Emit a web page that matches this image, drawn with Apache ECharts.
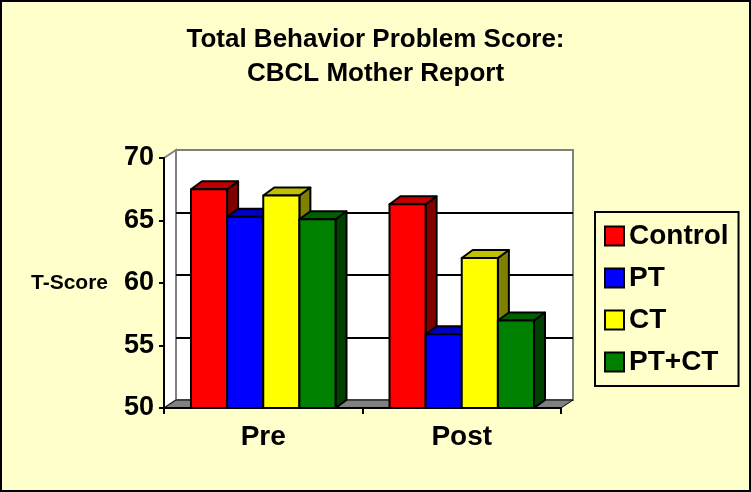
<!DOCTYPE html>
<html>
<head>
<meta charset="utf-8">
<script src="https://cdn.jsdelivr.net/npm/echarts@6/dist/echarts.min.js"></script>
<style>
  html, body { margin: 0; padding: 0; background: #ffffcc; }
  #main { width: 751px; height: 492px; }
</style>
</head>
<body>
<div id="main"></div>
<script>
var categories = ['Pre', 'Post'];
var groups = ['Control', 'PT', 'CT', 'PT+CT'];
var controlScores = [67.5, 66.3];
var ptScores = [65.3, 55.9];
var ctScores = [67.0, 62.0];
var ptctScores = [65.1, 57.0];
var yTicks = [50, 55, 60, 65, 70];

var allScores = [controlScores, ptScores, ctScores, ptctScores];
// front / top / side shades, excel style
var shades = [
  ['#ff0000', '#c00000', '#800000'],
  ['#0000ff', '#0000c0', '#000080'],
  ['#ffff00', '#c0c000', '#808000'],
  ['#008000', '#006000', '#004000']
];

var font = '"Liberation Sans", Arial, sans-serif';
var DX = 11, DY = -8;   // depth of the 3d look
var FRONT = { left: 164, top: 158, width: 397, height: 250 };
var BACK = { left: FRONT.left + 12, top: FRONT.top - 8, width: 397, height: 250 };

function barRenderer(s) {
  return function (params, api) {
    var cat = api.value(0);
    var val = api.value(1);
    var band = api.size([1, 0])[0];
    var bw = band * 0.182;
    var mid = api.coord([cat, yTicks[0]]);
    var top = api.coord([cat, val]);
    var x0 = mid[0] - bw * 2 + s * bw;
    var x1 = x0 + bw;
    var yt = top[1], yb = mid[1];
    var c = shades[s];
    var line = { stroke: '#000', lineWidth: 2, lineJoin: 'round' };
    return {
      type: 'group',
      children: [
        { type: 'polygon', shape: { points: [[x1, yt], [x1 + DX, yt + DY], [x1 + DX, yb + DY], [x1, yb]] },
          style: Object.assign({ fill: c[2] }, line) },
        { type: 'polygon', shape: { points: [[x0, yt], [x1, yt], [x1 + DX, yt + DY], [x0 + DX, yt + DY]] },
          style: Object.assign({ fill: c[1] }, line) },
        { type: 'rect', shape: { x: x0, y: yt, width: bw, height: yb - yt },
          style: Object.assign({ fill: c[0] }, line) }
      ]
    };
  };
}

var series = groups.map(function (g, s) {
  return {
    name: g,
    type: 'custom',
    xAxisIndex: 0,
    yAxisIndex: 0,
    itemStyle: { color: shades[s][0] },
    renderItem: barRenderer(s),
    data: allScores[s].map(function (v, i) { return [i, v]; }),
    z: 5
  };
});

var chart = echarts.init(document.getElementById('main'));
chart.setOption({
  backgroundColor: '#ffffcc',
  animation: false,
  title: {
    text: 'Total Behavior Problem Score:\nCBCL Mother Report',
    left: 'center',
    top: 18,
    textStyle: { fontFamily: font, fontSize: 26, fontWeight: 'bold', color: '#000', lineHeight: 34 }
  },
  graphic: [
    { type: 'rect', shape: { x: 1, y: 1, width: 749, height: 490 },
      style: { fill: 'none', stroke: '#000', lineWidth: 2 }, z: 100 },
    // side wall
    { type: 'polygon', z: 0,
      shape: { points: [[FRONT.left, FRONT.top], [BACK.left, BACK.top], [BACK.left, BACK.top + BACK.height], [FRONT.left, FRONT.top + FRONT.height]] },
      style: { fill: '#fff', stroke: '#808080', lineWidth: 2 } },
    // floor
    { type: 'polygon', z: 1,
      shape: { points: [[FRONT.left, FRONT.top + FRONT.height], [BACK.left, BACK.top + BACK.height],
        [BACK.left + BACK.width, BACK.top + BACK.height], [FRONT.left + FRONT.width, FRONT.top + FRONT.height]] },
      style: { fill: '#808080', stroke: '#000', lineWidth: 1 } }
  ],
  legend: {
    orient: 'vertical',
    left: 595,
    top: 212,
    padding: [10, 10, 10, 9],
    itemGap: 14,
    itemWidth: 19,
    itemHeight: 19,
    borderColor: '#000',
    borderWidth: 2,
    icon: 'rect',
    textStyle: { fontFamily: font, fontSize: 28, fontWeight: 'bold', color: '#000' },
    data: groups.map(function (g, s) {
      return { name: g, itemStyle: { color: shades[s][0], borderColor: '#000', borderWidth: 2 } };
    })
  },
  grid: [
    Object.assign({ containLabel: false }, FRONT),
    Object.assign({ show: true, backgroundColor: '#fff', borderColor: '#808080', borderWidth: 2 }, BACK)
  ],
  xAxis: [
    {
      type: 'category', gridIndex: 0, data: categories,
      axisLine: { lineStyle: { color: '#000', width: 2 } },
      axisTick: { show: true, length: 6, lineStyle: { color: '#000', width: 2 } },
      axisLabel: { margin: 15, fontFamily: font, fontSize: 28, fontWeight: 'bold', color: '#000' },
      z: 6
    },
    {
      type: 'category', gridIndex: 1, data: categories, show: false
    }
  ],
  yAxis: [
    {
      type: 'value', gridIndex: 0, min: yTicks[0], max: yTicks[yTicks.length - 1], interval: 5,
      name: 'T-Score', nameLocation: 'middle', nameRotate: 0, nameGap: 56,
      nameTextStyle: { fontFamily: font, fontSize: 21, fontWeight: 'bold', color: '#000' },
      axisLine: { show: true, lineStyle: { color: '#000', width: 2 } },
      axisTick: { show: true, length: 5, lineStyle: { color: '#000', width: 2 } },
      axisLabel: { margin: 10, fontFamily: font, fontSize: 27, fontWeight: 'bold', color: '#000' },
      splitLine: { show: false },
      z: 6
    },
    {
      type: 'value', gridIndex: 1, min: yTicks[0], max: yTicks[yTicks.length - 1], interval: 5,
      axisLine: { show: false }, axisTick: { show: false }, axisLabel: { show: false },
      splitLine: { show: true, showMinLine: false, showMaxLine: false, lineStyle: { color: '#000', width: 2 } }
    }
  ],
  series: series
});
</script>
</body>
</html>
